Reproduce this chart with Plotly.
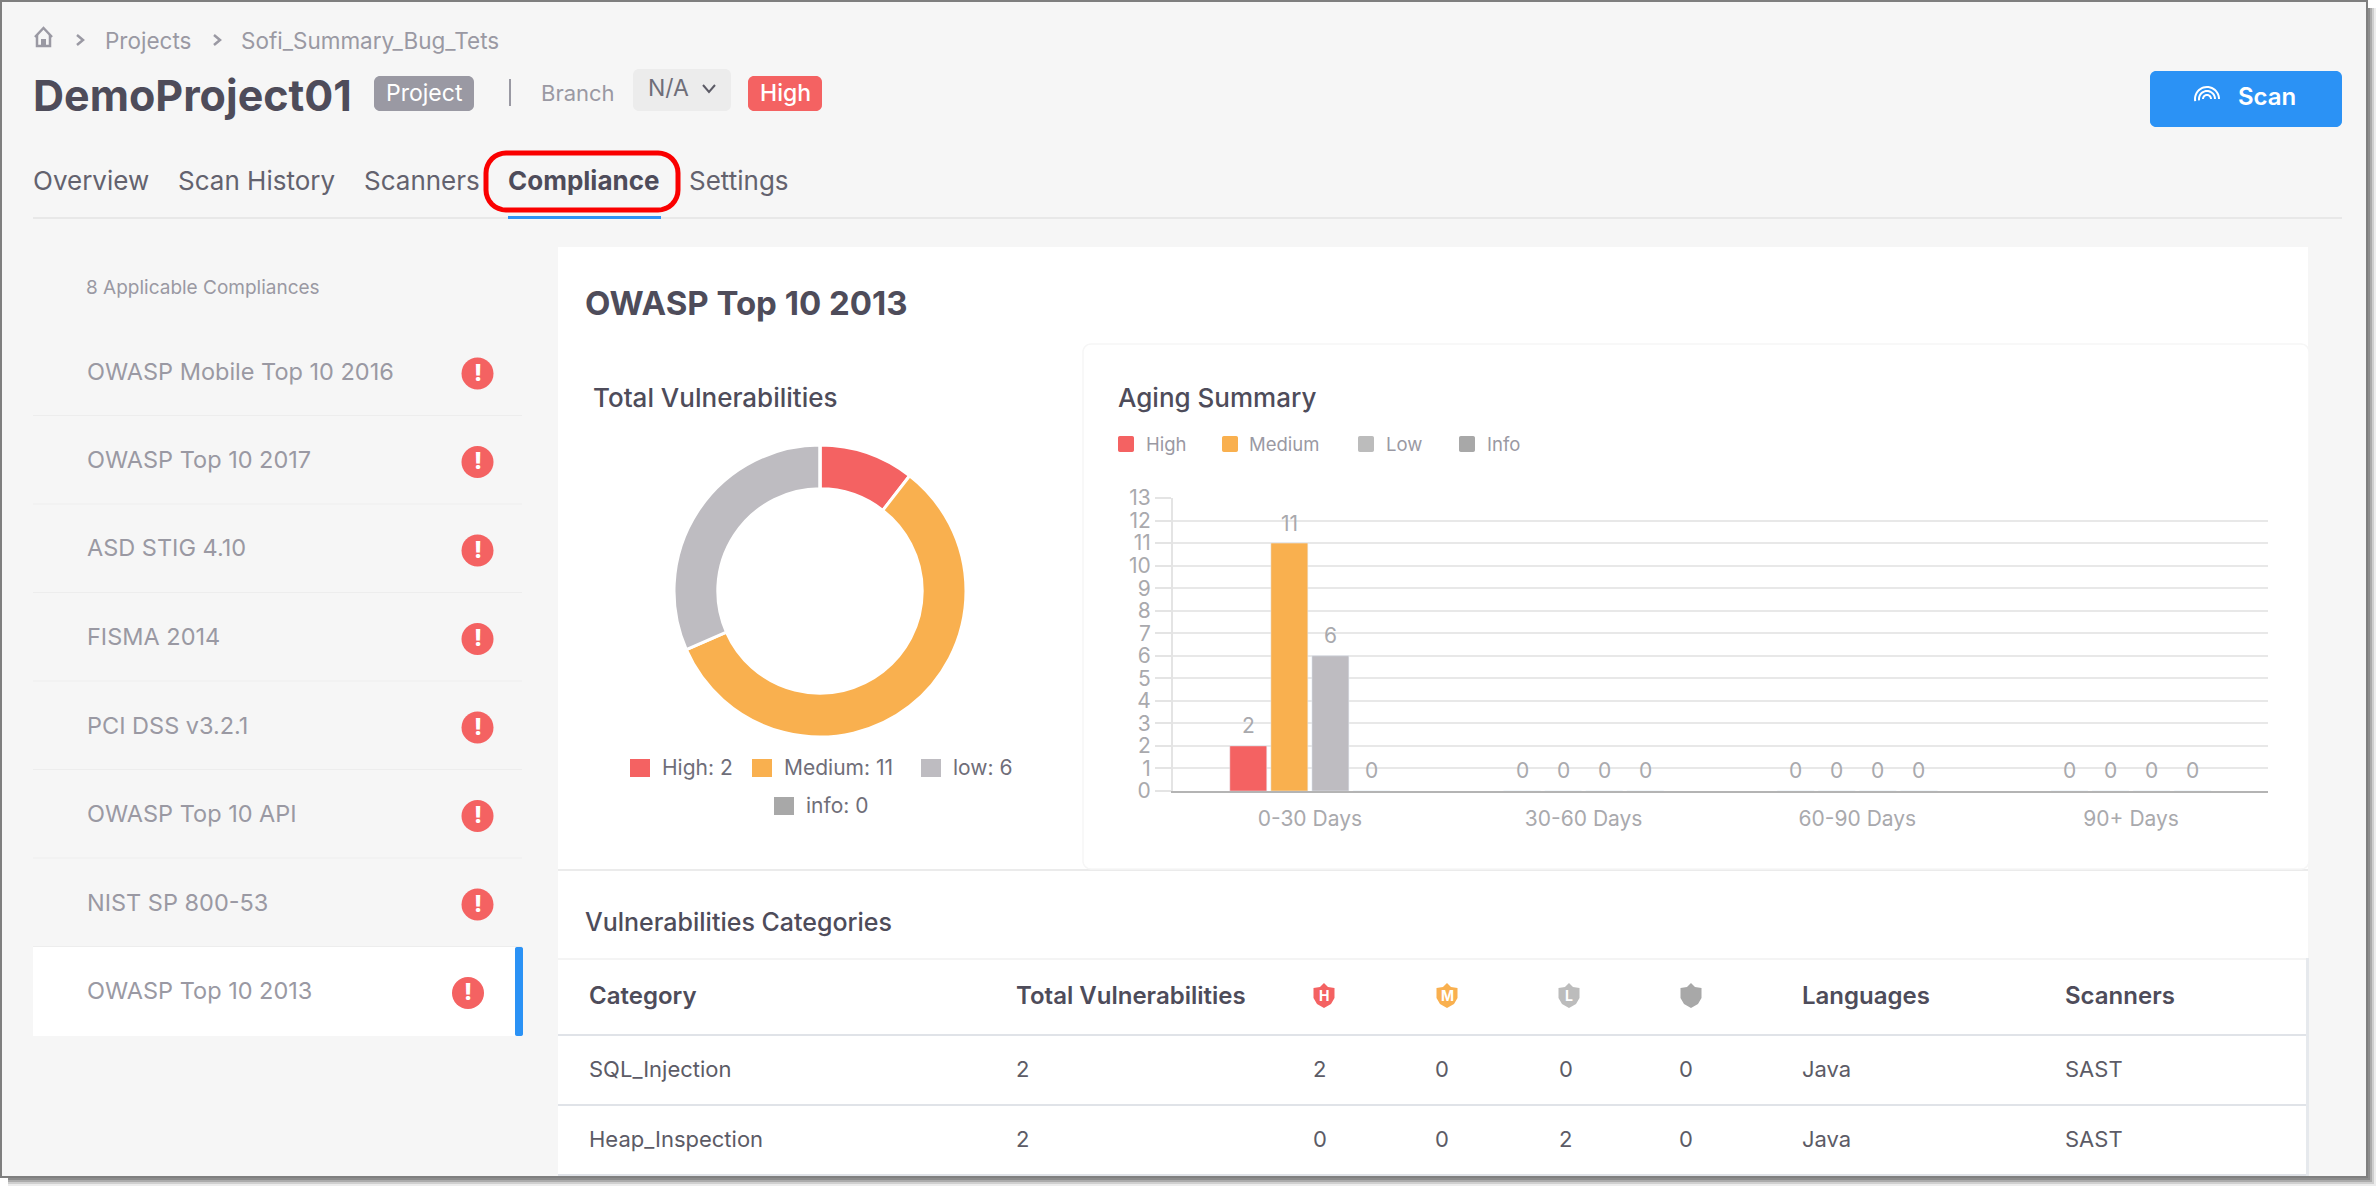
import numpy as np
import plotly.graph_objects as go

WIDTH = 2376
HEIGHT = 1187

severity_names = ['High', 'Medium', 'low', 'info']
severity_totals = [2, 11, 6, 0]
severity_colors = ['#f46262', '#f9b04f', '#bebcc1', '#a8a8a8']

aging_names = ['High', 'Medium', 'Low', 'Info']
aging_buckets = ['0-30 Days', '30-60 Days', '60-90 Days', '90+ Days']
aging_high = [2, 0, 0, 0]
aging_medium = [11, 0, 0, 0]
aging_low = [6, 0, 0, 0]
aging_info = [0, 0, 0, 0]
aging_ticks = list(range(14))

compliance_names = ['OWASP Mobile Top 10 2016', 'OWASP Top 10 2017', 'ASD STIG 4.10', 'FISMA 2014',
                    'PCI DSS v3.2.1', 'OWASP Top 10 API', 'NIST SP 800-53', 'OWASP Top 10 2013']

tab_names = ['Overview', 'Scan History', 'Scanners', 'Compliance', 'Settings']

table_headers = ['Category', 'Total Vulnerabilities', '', '', '', '', 'Languages', 'Scanners']
table_row_1 = ['SQL_Injection', '2', '2', '0', '0', '0', 'Java', 'SAST']
table_row_2 = ['Heap_Inspection', '2', '0', '0', '2', '0', 'Java', 'SAST']
shield_letters = ['H', 'M', 'L', '']

if __name__ == '__main__':

    dark = '#4e4c5a'
    grey = '#9a99a3'
    font_name = 'Inter'

    fig = go.Figure()
    shapes = []
    notes = []

    # ---------------------------
    # PIXEL HELPERS
    # ---------------------------
    def fx(x):
        return x / WIDTH

    def fy(y):
        return 1 - y / HEIGHT

    def add_rect(x0, y0, x1, y1, fill, line=None, width=0):
        shapes.append(dict(type='rect', xref='paper', yref='paper', layer='below',
                           x0=fx(x0), x1=fx(x1), y0=fy(y0), y1=fy(y1), fillcolor=fill,
                           line=dict(color=line, width=width) if line else dict(width=0)))

    def add_path(points, fill=None, line=None, width=0, close=False):
        path = 'M ' + ' L '.join(f'{fx(x):.6f},{fy(y):.6f}' for x, y in points)
        if close:
            path += ' Z'
        shapes.append(dict(type='path', xref='paper', yref='paper', layer='below', path=path,
                           fillcolor=fill if fill else 'rgba(0,0,0,0)',
                           line=dict(color=line, width=width) if line else dict(width=0)))

    def add_rounded(x0, y0, x1, y1, r, fill=None, line=None, width=0):
        pts = []
        corners = [(x1 - r, y0 + r, -90), (x1 - r, y1 - r, 0), (x0 + r, y1 - r, 90), (x0 + r, y0 + r, 180)]
        for cx, cy, start in corners:
            for a in np.radians(np.linspace(start, start + 90, 9)):
                pts.append((cx + r * np.cos(a), cy + r * np.sin(a)))
        add_path(pts, fill, line, width, close=True)

    def add_circle(cx, cy, r, fill):
        shapes.append(dict(type='circle', xref='paper', yref='paper', layer='below',
                           x0=fx(cx - r), x1=fx(cx + r), y0=fy(cy + r), y1=fy(cy - r),
                           fillcolor=fill, line=dict(width=0)))

    def add_arc(cx, cy, r, start, stop, color, width):
        pts = [(cx + r * np.cos(a), cy + r * np.sin(a)) for a in np.radians(np.linspace(start, stop, 24))]
        add_path(pts, None, color, width)

    def add_text(x, y, text, size, color, weight=400, anchor='left'):
        if anchor == 'left':
            x = x - 1.5  # text box sits a little to the right otherwise
        notes.append(dict(xref='paper', yref='paper', x=fx(x), y=fy(y), text=text, showarrow=False,
                          xanchor=anchor, yanchor='middle', borderpad=0,
                          font=dict(family=font_name, size=size, color=color, weight=weight)))

    # ---------------------------
    # WINDOW AND PANELS
    # ---------------------------
    for off, col in [(9, '#ececec'), (7, '#cfcfcf'), (5, '#ababab'), (3, '#8c8c8c')]:
        add_rect(8, 8, 2367 + off, 1177 + off, col)
    add_rect(1, 1, 2367, 1177, '#f6f6f6', '#7f7f7f', 2)

    add_rect(558, 247, 2308, 1176, '#ffffff')
    add_rect(558, 869, 1083, 871, '#ebebeb')
    add_rect(1083, 869, 2308, 871, '#ebebeb')
    add_rounded(1083, 344, 2309, 869, 8, '#ffffff', '#f6f6f6', 1.5)
    add_rect(558, 958, 2306, 960, '#f4f4f4')
    add_rect(2306, 958, 2309, 1176, '#e6e9ed')

    # ---------------------------
    # HEADER
    # ---------------------------
    add_path([(35, 37), (43.5, 28), (52, 37)], None, grey, 2.5)
    add_path([(37, 35), (37, 46), (50, 46), (50, 35)], None, grey, 2.5)
    add_rect(41, 39, 46, 46, grey)
    add_path([(77, 35), (83, 40), (77, 45)], None, grey, 2.5)
    add_path([(214, 35), (220, 40), (214, 45)], None, grey, 2.5)
    add_text(105, 40, 'Projects', 22.5, grey)
    add_text(241, 40, 'Sofi_Summary_Bug_Tets', 22.5, grey)

    add_text(33, 95, 'DemoProject01', 43, dark, 700)
    add_rounded(374, 76, 474, 111, 6, '#9a99a3')
    add_text(424, 93, 'Project', 23, '#ffffff', 400, 'center')
    add_rect(509, 79, 511, 106, grey)
    add_text(541, 93, 'Branch', 22, grey)
    add_rounded(633, 69, 731, 111, 6, '#ececec')
    add_text(648, 88, 'N/A', 23, '#6f6e79')
    add_path([(703, 85), (709, 92), (715, 85)], None, '#5c5b66', 2)
    add_rounded(748, 76, 822, 111, 6, severity_colors[0])
    add_text(785, 93, 'High', 23, '#ffffff', 500, 'center')

    add_rounded(2150, 71, 2342, 127, 6, '#2b92f5')
    add_arc(2207, 99, 4, 180, 360, '#ffffff', 2)
    add_arc(2207, 99, 8, 170, 360, '#ffffff', 2)
    add_arc(2207, 99, 12, 170, 360, '#ffffff', 2)
    add_text(2238, 96, 'Scan', 24, '#ffffff', 600)

    # ---------------------------
    # TABS
    # ---------------------------
    add_rect(33, 217, 2342, 219, '#e8e8e8')
    tab_x = [33, 178, 364, 508, 689]
    for name, x in zip(tab_names, tab_x):
        if name == 'Compliance':
            add_text(x, 181, name, 26, dark, 700)
        else:
            add_text(x, 181, name, 26, '#63626e')
    add_rect(508, 216, 661, 219, '#2b92f5')
    add_rounded(486, 153, 678, 210, 20, None, '#fa0000', 5)

    # ---------------------------
    # COMPLIANCE LIST
    # ---------------------------
    add_text(86, 288, '8 Applicable Compliances', 19, grey)
    row_height = 88.5
    for idx, name in enumerate(compliance_names):
        y = 371 + idx * row_height
        if idx == len(compliance_names) - 1:
            add_rect(33, 947, 523, 1036, '#ffffff')
            add_rounded(515, 947, 523, 1036, 2, '#2b92f5')
            cx = 468
        else:
            cx = 477.5
            add_rect(33, y + 44, 522, y + 45, '#ededed')
        add_text(87, y, name, 23.5, grey)
        add_circle(cx, y + 2.5, 16, severity_colors[0])
        add_text(cx, y + 1.5, '!', 23, '#ffffff', 800, 'center')

    # ---------------------------
    # CARD TITLES
    # ---------------------------
    add_text(585, 303, 'OWASP Top 10 2013', 33, dark, 700)
    add_text(593, 397, 'Total Vulnerabilities', 26, dark, 450)
    add_text(1118, 397, 'Aging Summary', 26, dark, 550)
    add_text(585, 922, 'Vulnerabilities Categories', 25, dark, 500)

    # ---------------------------
    # DONUT LEGEND
    # ---------------------------
    pie_legend = [(630, 768), (752, 768), (921, 768), (774, 806)]
    for name, total, color, (x, y) in zip(severity_names, severity_totals, severity_colors, pie_legend):
        add_rect(x, y - 9, x + 20, y + 9, color)
        add_text(x + 32, y - 1, f'{name}: {total}', 21, '#6f6e79')

    # ---------------------------
    # BAR LEGEND
    # ---------------------------
    bar_legend = [1118, 1222, 1358, 1459]
    for name, color, x in zip(aging_names, severity_colors, bar_legend):
        add_rounded(x, 436, x + 16, 452, 2, '#bcbcbc' if name == 'Low' else color)
        add_text(x + 28, 444, name, 18.5, grey)

    # ---------------------------
    # TABLE
    # ---------------------------
    col_x = [589, 1016, 1313, 1436, 1559, 1679, 1802, 2065]
    for head, x in zip(table_headers, col_x):
        if head:
            add_text(x, 996, head, 24, dark, 600)
    for row, y in zip([table_row_1, table_row_2], [1069, 1139]):
        for cell, x in zip(row, col_x):
            add_text(x, y, cell, 22, '#5c5b66')
    for y in [1034, 1104, 1174]:
        add_rect(558, y, 2306, y + 2, '#e0e3e8')

    shield_x = [1324, 1447, 1569, 1691]
    shield_colors = [severity_colors[0], severity_colors[1], '#bcbcbc', severity_colors[3]]
    for letter, x, color in zip(shield_letters, shield_x, shield_colors):
        add_path([(x, 983), (x + 4, 987), (x + 10.5, 988), (x + 10.5, 998), (x + 7, 1004), (x, 1008),
                  (x - 7, 1004), (x - 10.5, 998), (x - 10.5, 988), (x - 4, 987)], color, close=True)
        if letter:
            add_text(x, 996, letter, 14, '#ffffff', 700, 'center')

    # ---------------------------
    # DONUT
    # ---------------------------
    fig.add_trace(go.Pie(
        labels=severity_names,
        values=severity_totals,
        hole=0.70,
        sort=False,
        direction='clockwise',
        rotation=0,
        textinfo='none',
        marker=dict(colors=severity_colors, line=dict(color='#ffffff', width=3)),
        domain=dict(x=[fx(820 - 146), fx(820 + 146)], y=[fy(591 + 146), fy(591 - 146)]),
        showlegend=False
    ))

    # ---------------------------
    # BARS
    # ---------------------------
    series = [aging_high, aging_medium, aging_low, aging_info]
    for pos, (name, values, color) in enumerate(zip(aging_names, series, severity_colors)):
        fig.add_trace(go.Bar(
            x=aging_buckets,
            y=values,
            name=name,
            marker=dict(color=color),
            showlegend=False
        ))
        # value labels sit higher than the bar text position allows
        for bucket, value in zip(aging_buckets, values):
            notes.append(dict(xref='x', yref='y', x=bucket, y=value, text=str(value), showarrow=False,
                              xshift=(pos - 1.5) * 41, yshift=20, yanchor='middle',
                              font=dict(family=font_name, size=21, color='#a9a9ad')))

    # layout
    fig.update_layout(
        width=WIDTH,
        height=HEIGHT,
        margin=dict(l=0, r=0, t=0, b=0, autoexpand=False),
        paper_bgcolor='#ffffff',
        plot_bgcolor='rgba(0,0,0,0)',
        barmode='group',
        bargap=0.4,
        bargroupgap=0.1,
        shapes=shapes,
        annotations=notes,
        xaxis=dict(
            domain=[fx(1173), fx(2268)],
            automargin=False,
            showline=True,
            linecolor='#b4b4b4',
            linewidth=2,
            ticks='outside',
            ticklen=8,
            tickcolor='rgba(0,0,0,0)',
            tickfont=dict(family=font_name, size=21, color='#a9a9ad')
        ),
        yaxis=dict(
            domain=[fy(791), fy(498)],
            automargin=False,
            range=[0, 13],
            tickvals=aging_ticks,
            showgrid=True,
            gridcolor='#e8e8e8',
            gridwidth=2,
            zeroline=False,
            showline=True,
            linecolor='#e4e4e4',
            linewidth=2,
            ticks='outside',
            ticklen=16,
            tickcolor='#e4e4e4',
            tickwidth=2,
            tickfont=dict(family=font_name, size=21, color='#a9a9ad')
        )
    )

    fig.write_html('out.html', config={'displayModeBar': False}, post_script="document.body.style.margin='0';")
